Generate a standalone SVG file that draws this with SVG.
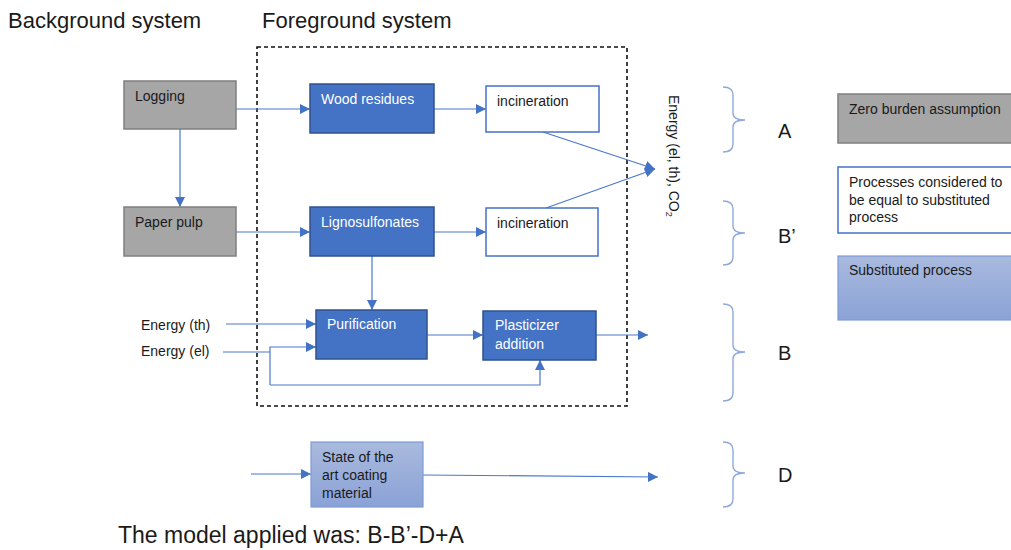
<svg xmlns="http://www.w3.org/2000/svg" width="1011" height="550" viewBox="0 0 1011 550">
<defs>
<style>
text{font-family:"Liberation Sans",Arial,sans-serif;fill:#1a1a1a}
.h{font-size:22px}
.t{font-size:14px}
.w{fill:#fff}
.grey{fill:#a6a6a6;stroke:#7f7f7f;stroke-width:1.5}
.blue{fill:#4472c4;stroke:#2f528f;stroke-width:1.5}
.white{fill:#fff;stroke:#4472c4;stroke-width:1.5}
.sub{fill:url(#g);stroke:#7d9ad6;stroke-width:1.2}
.c{fill:none;stroke:#4a78cc;stroke-width:1.2}
.br{fill:none;stroke:#8fa9dc;stroke-width:1.4}
.lbl{font-size:20px}
</style>
<linearGradient id="g" x1="0" y1="0" x2="0" y2="1">
<stop offset="0" stop-color="#aabade"/>
<stop offset="1" stop-color="#8aa2d6"/>
</linearGradient>
<marker id="a" viewBox="0 0 10 10" refX="10" refY="5" markerWidth="10" markerHeight="10" markerUnits="userSpaceOnUse" orient="auto">
<path d="M0,0 L10,5 L0,10 z" fill="#4472c4"/>
</marker>
</defs>
<rect width="1011" height="550" fill="#fff"/>

<text class="h" x="8" y="28">Background system</text>
<text class="h" x="262" y="28">Foreground system</text>
<rect x="257" y="47" width="370" height="359" fill="none" stroke="#111" stroke-width="1.6" stroke-dasharray="4,3"/>

<g id="connectors">
<line class="c" x1="236" y1="109" x2="310" y2="109" marker-end="url(#a)"/>
<line class="c" x1="180" y1="129" x2="180" y2="207" marker-end="url(#a)"/>
<line class="c" x1="236" y1="232" x2="310" y2="232" marker-end="url(#a)"/>
<line class="c" x1="434" y1="109" x2="486" y2="109" marker-end="url(#a)"/>
<line class="c" x1="434" y1="232" x2="486" y2="232" marker-end="url(#a)"/>
<line class="c" x1="543" y1="132" x2="655" y2="169" marker-end="url(#a)"/>
<line class="c" x1="546" y1="208" x2="655" y2="169" marker-end="url(#a)"/>
<line class="c" x1="372" y1="256" x2="372" y2="310" marker-end="url(#a)"/>
<line class="c" x1="226" y1="324" x2="316" y2="324" marker-end="url(#a)"/>
<polyline class="c" points="223,352 270,352"/>
<polyline class="c" points="270,385 270,347 316,347" marker-end="url(#a)"/>
<polyline class="c" points="270,385 540,385 540,360" marker-end="url(#a)"/>
<line class="c" x1="427" y1="335" x2="483" y2="335" marker-end="url(#a)"/>
<line class="c" x1="596" y1="335" x2="648" y2="335" marker-end="url(#a)"/>
<line class="c" x1="251" y1="474" x2="311" y2="474" marker-end="url(#a)"/>
<line class="c" x1="423" y1="475" x2="658" y2="477" marker-end="url(#a)"/>
</g>

<g id="logging"><rect class="grey" x="124" y="81" width="112" height="48"/><text class="t" x="135" y="101">Logging</text></g>
<g id="paper-pulp"><rect class="grey" x="124" y="207" width="112" height="49"/><text class="t" x="135" y="227">Paper pulp</text></g>
<g id="wood-residues"><rect class="blue" x="310" y="84" width="124" height="49"/><text class="t w" x="321" y="104">Wood residues</text></g>
<g id="lignosulfonates"><rect class="blue" x="310" y="207" width="124" height="49"/><text class="t w" x="321" y="227">Lignosulfonates</text></g>
<g id="incineration-1"><rect class="white" x="486" y="86" width="113" height="46"/><text class="t" x="497" y="106">incineration</text></g>
<g id="incineration-2"><rect class="white" x="486" y="208" width="112" height="48"/><text class="t" x="497" y="228">incineration</text></g>
<g id="purification"><rect class="blue" x="316" y="310" width="111" height="49"/><text class="t w" x="327" y="329">Purification</text></g>
<g id="plasticizer"><rect class="blue" x="483" y="311" width="113" height="49"/><text class="t w" x="495" y="330">Plasticizer</text><text class="t w" x="495" y="349">addition</text></g>
<g id="state-of-art"><rect class="sub" x="311" y="442" width="112" height="65"/><text class="t" x="322" y="462">State of the</text><text class="t" x="322" y="480">art coating</text><text class="t" x="322" y="498">material</text></g>

<g id="energy-th"><text class="t" x="141" y="330">Energy (th)</text></g>
<g id="energy-el"><text class="t" x="141" y="356">Energy (el)</text></g>
<g id="energy-out"><text transform="translate(669,95) rotate(90)" style="font-size:14px">Energy (el, th), CO<tspan style="font-size:9px" dy="3">2</tspan></text></g>

<g id="brackets">
<path class="br" d="M723,87 Q733,87 733,95 L733,113 Q733,120 745,120 Q733,120 733,127 L733,144 Q733,152 723,152"/>
<path class="br" d="M723,201 Q733,201 733,209 L733,226 Q733,233 745,233 Q733,233 733,240 L733,257 Q733,265 723,265"/>
<path class="br" d="M723,304 Q733,304 733,312 L733,345 Q733,352 745,352 Q733,352 733,359 L733,393 Q733,401 723,401"/>
<path class="br" d="M723,442 Q733,442 733,450 L733,466 Q733,473 745,473 Q733,473 733,480 L733,499 Q733,507 723,507"/>
</g>
<g id="label-A"><text class="lbl" x="778" y="138">A</text></g>
<g id="label-Bp"><text class="lbl" x="778" y="243">B’</text></g>
<g id="label-B"><text class="lbl" x="778" y="360">B</text></g>
<g id="label-D"><text class="lbl" x="778" y="482">D</text></g>

<g id="legend-zero"><rect class="grey" x="838" y="94" width="180" height="49"/><text class="t" x="849" y="114">Zero burden assumption</text></g>
<g id="legend-equal"><rect class="white" x="838" y="167" width="180" height="66"/><text class="t" x="849" y="187">Processes considered to</text><text class="t" x="849" y="205">be equal to substituted</text><text class="t" x="849" y="222">process</text></g>
<g id="legend-sub"><rect class="sub" x="838" y="256" width="180" height="64"/><text class="t" x="849" y="275">Substituted process</text></g>

<text class="h" x="118" y="543" style="font-size:23px">The model applied was: B-B’-D+A</text>
</svg>
